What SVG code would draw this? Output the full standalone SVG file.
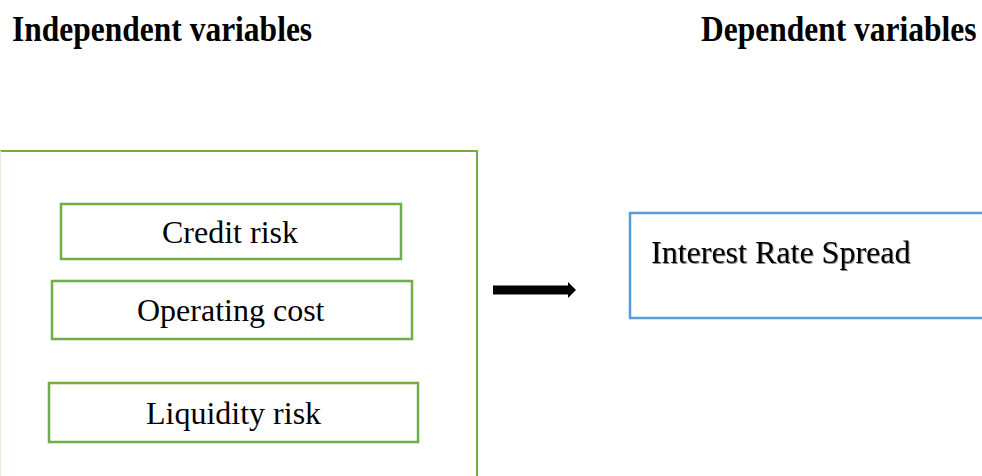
<svg xmlns="http://www.w3.org/2000/svg" width="982" height="476" viewBox="0 0 982 476">
<style>
.hdr{font-family:"Liberation Serif","Times New Roman",serif;font-weight:bold;font-size:31.5px;fill:#000}
.lbl{font-family:"Liberation Serif","Times New Roman",serif;font-size:32px;fill:#000}
.gbox{fill:#fff;stroke:#70AD47;stroke-width:2.5}
.bbox{fill:#fff;stroke:#5B9BD5;stroke-width:2.5}
</style>
<defs>
<filter id="sh" x="-5%" y="-20%" width="110%" height="140%">
<feDropShadow dx="1" dy="1" stdDeviation="0.6" flood-color="#000" flood-opacity="0.45"/>
</filter>
</defs>
<rect width="982" height="476" fill="#fff"/>
<g id="headers">
<text class="hdr" transform="translate(12,41) scale(1,1.12)">Independent variables</text>
<text class="hdr" transform="translate(701,41) scale(1,1.12)">Dependent variables</text>
</g>
<g id="independent-group">
<rect x="0" y="151" width="477" height="340" fill="#fff" stroke="#70AD47" stroke-width="2"/>
<line x1="0.5" y1="151" x2="0.5" y2="476" stroke="#E2EFDA" stroke-width="1"/>
</g>
<g id="credit-risk">
<rect class="gbox" x="61" y="204" width="340" height="55"/>
<text class="lbl" x="162" y="243">Credit risk</text>
</g>
<g id="operating-cost">
<rect class="gbox" x="52" y="281" width="360" height="58"/>
<text class="lbl" x="137" y="321">Operating cost</text>
</g>
<g id="liquidity-risk">
<rect class="gbox" x="49" y="383" width="369" height="59"/>
<text class="lbl" x="146" y="424">Liquidity risk</text>
</g>
<g id="interest-rate-spread">
<rect class="bbox" x="630" y="213" width="360" height="105"/>
<text class="lbl" x="651" y="263" filter="url(#sh)">Interest Rate Spread</text>
</g>
<g id="connectors">
<polygon points="493,285.5 568,285.5 568,282 576,290 568,298 568,294.5 493,294.5" fill="#000"/>
</g>
</svg>
